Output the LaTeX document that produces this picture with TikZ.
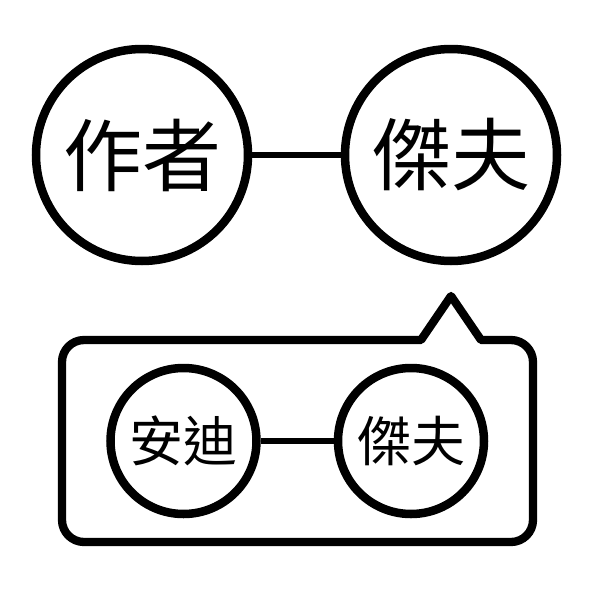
\documentclass[tikz,border=0pt]{standalone}
\usepackage{fontspec}
\newfontfamily\cjk{Noto Sans CJK TC}
\begin{document}
\begin{tikzpicture}[x=1pt,y=-1pt,
  bigcirc/.style={circle,draw,line width=8.5pt,minimum size=212pt,inner sep=0pt,font=\cjk\fontsize{79}{79}\selectfont},
  smallcirc/.style={circle,draw,line width=8.5pt,minimum size=146pt,inner sep=0pt,font=\cjk\fontsize{54}{54}\selectfont},
  link/.style={line width=6.5pt},
  bubble/.style={line width=8.3pt,line join=round}]
\useasboundingbox (0,0) rectangle (592,592);
\node[bigcirc] (a1) at (142,155) {作者};
\node[bigcirc] (j1) at (451,155) {傑夫};
\draw[link] (a1) -- (j1);
\draw[bubble] (451,296) -- (481,340) -- (511,340)
  arc[start angle=-90,end angle=0,radius=22] -- (533,520)
  arc[start angle=0,end angle=90,radius=22] -- (84,542)
  arc[start angle=90,end angle=180,radius=22] -- (62,362)
  arc[start angle=180,end angle=270,radius=22] -- (421,340) -- cycle;
\node[smallcirc] (a2) at (183.5,441) {安迪};
\node[smallcirc] (j2) at (411,441) {傑夫};
\draw[link] (a2) -- (j2);
\end{tikzpicture}
\end{document}
